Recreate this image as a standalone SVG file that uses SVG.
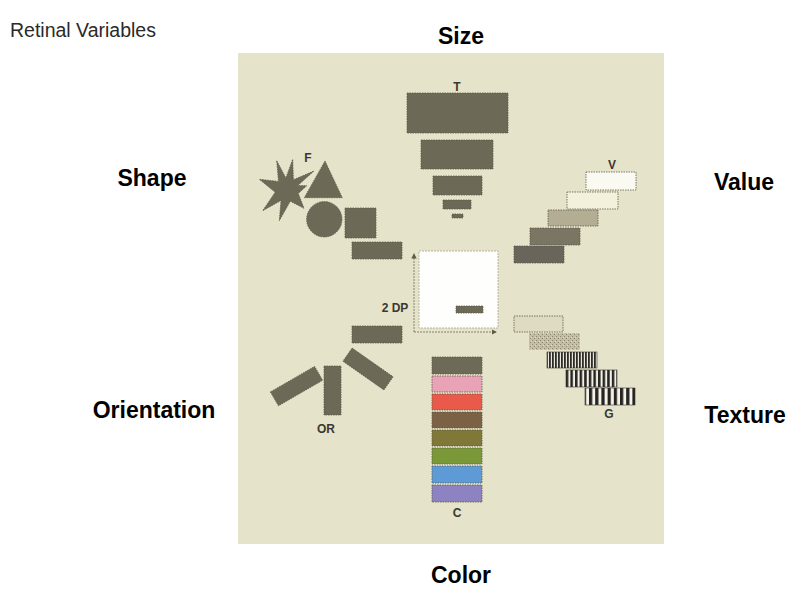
<svg xmlns="http://www.w3.org/2000/svg" width="806" height="597" viewBox="0 0 806 597">
<style>
.title{font-family:"Liberation Sans",Arial,sans-serif;font-weight:bold;font-size:23px;fill:#000;text-anchor:middle}
.lbl{font-family:"Liberation Sans",Arial,sans-serif;font-weight:bold;font-size:12px;fill:#3a3830;text-anchor:middle}
.dk{fill:#6d6957;stroke:#5e5a4a;stroke-width:0.8;stroke-dasharray:1.5 1}
.bd{stroke:#5e5a4a;stroke-width:0.8;stroke-dasharray:1.5 1}
.ax{stroke:#7a7868;stroke-width:0.9;fill:none;stroke-dasharray:2 1}
</style>
<defs>
<marker id="arr" viewBox="0 0 6 6" refX="5" refY="3" markerWidth="6" markerHeight="6" orient="auto">
<path d="M0,0 L6,3 L0,6 Z" fill="#5e5a4a"/>
</marker>
<pattern id="stip" width="4" height="4" patternUnits="userSpaceOnUse">
<rect width="4" height="4" fill="#c4bfa3"/>
<rect x="0" y="0" width="1" height="1" fill="#8a8670"/>
<rect x="2" y="2" width="1" height="1" fill="#8a8670"/>
<rect x="3" y="1" width="1" height="1" fill="#e0dcc4"/>
</pattern>
<pattern id="st1" width="3" height="10" patternUnits="userSpaceOnUse">
<rect width="3" height="10" fill="#e8e7dc"/>
<rect width="1.8" height="10" fill="#2e2c26"/>
</pattern>
<pattern id="st2" width="4.6" height="10" patternUnits="userSpaceOnUse">
<rect width="4.6" height="10" fill="#f2f1e8"/>
<rect width="2.5" height="10" fill="#26241f"/>
</pattern>
<pattern id="st3" width="6.2" height="10" patternUnits="userSpaceOnUse">
<rect width="6.2" height="10" fill="#f4f3ea"/>
<rect width="3.2" height="10" fill="#26241f"/>
</pattern>
</defs>
<rect width="806" height="597" fill="#ffffff"/>
<rect x="238" y="53" width="426" height="491" fill="#e5e3c9"/>

<text x="10" y="37" font-family="Liberation Sans,Arial,sans-serif" font-size="19.5" fill="#2a2a2a">Retinal Variables</text>
<text class="title" x="461" y="44">Size</text>
<text class="title" x="152" y="186">Shape</text>
<text class="title" x="744" y="190">Value</text>
<text class="title" x="154" y="418">Orientation</text>
<text class="title" x="745" y="423">Texture</text>
<text class="title" x="461" y="583">Color</text>

<g id="size">
<text class="lbl" x="457" y="91">T</text>
<rect class="dk" x="407" y="93" width="101" height="40"/>
<rect class="dk" x="421" y="140" width="72" height="29"/>
<rect class="dk" x="433" y="176" width="49" height="19"/>
<rect class="dk" x="443" y="200" width="28" height="9"/>
<rect class="dk" x="452" y="214" width="11" height="4"/>
</g>

<g id="shape">
<text class="lbl" x="308" y="162">F</text>
<polygon class="dk" points="276.7,160.7 285.9,178 292.7,159.3 293.4,179.7 314,171 297.8,185.5 306.7,185.7 298.3,193.5 304,208.3 290.3,201.2 279.3,220.7 281,200.5 262.7,210.7 275.2,192.2 259.3,179.3 278.5,181.4"/>
<polygon class="dk" points="325,161 342.3,197.7 304.3,197.7"/>
<circle class="dk" cx="324.3" cy="219.3" r="17.7"/>
<rect class="dk" x="345" y="208" width="31" height="30"/>
<rect class="dk" x="352" y="242" width="50" height="17"/>
</g>

<g id="value">
<text class="lbl" x="612" y="169">V</text>
<rect class="bd" x="586" y="172" width="50" height="18" fill="#fbfaf2"/>
<rect class="bd" x="567" y="192" width="51" height="17" fill="#f3f1dc"/>
<rect class="bd" x="548" y="210" width="50" height="16" fill="#b2ad93"/>
<rect class="bd" x="530" y="228" width="50" height="17" fill="#7b7664"/>
<rect class="bd" x="514" y="246" width="50" height="17" fill="#69655a"/>
</g>

<g id="plane">
<rect x="419" y="251" width="79" height="77" fill="#fefefc" stroke="#a8a696" stroke-width="0.8" stroke-dasharray="2 1"/>
<rect class="dk" x="456" y="306" width="27" height="7"/>
<text class="lbl" x="395" y="312" font-size="13">2 DP</text>
</g>

<g id="connectors">
<path class="ax" d="M414,332 L414,254" marker-end="url(#arr)"/>
<path class="ax" d="M414,332 L496,332" marker-end="url(#arr)"/>
</g>

<g id="orientation">
<rect class="dk" x="352" y="326" width="50" height="17"/>
<rect class="dk" x="324" y="366" width="17" height="49"/>
<rect class="dk" x="343" y="361" width="50" height="16" transform="rotate(35 368 369)"/>
<rect class="dk" x="271" y="378" width="51" height="16" transform="rotate(-30 296.7 386)"/>
<text class="lbl" x="326" y="433">OR</text>
</g>

<g id="texture">
<rect class="bd" x="514" y="316" width="49" height="16" fill="#dedbc0"/>
<rect x="529" y="333" width="51" height="17" fill="url(#stip)"/>
<rect x="547" y="352" width="50" height="16" fill="url(#st1)" stroke="#3a3830" stroke-width="0.6"/>
<rect x="566" y="370" width="51" height="17" fill="url(#st2)" stroke="#3a3830" stroke-width="0.6"/>
<rect x="585" y="388" width="50" height="17" fill="url(#st3)" stroke="#3a3830" stroke-width="0.6"/>
<text class="lbl" x="609" y="418">G</text>
</g>

<g id="color">
<rect class="bd" x="432" y="357" width="50" height="17" fill="#6e6a58"/>
<rect class="bd" x="432" y="376" width="50" height="16" fill="#e9a3b6"/>
<rect class="bd" x="432" y="394" width="50" height="16" fill="#ea5a4a"/>
<rect class="bd" x="432" y="412" width="50" height="16" fill="#7c6244"/>
<rect class="bd" x="432" y="430" width="50" height="16" fill="#7f7838"/>
<rect class="bd" x="432" y="448" width="50" height="16" fill="#7a9838"/>
<rect class="bd" x="432" y="466" width="50" height="17" fill="#5e9ad6"/>
<rect class="bd" x="432" y="485" width="50" height="17" fill="#8d82c2"/>
<text class="lbl" x="457" y="517">C</text>
</g>
</svg>
